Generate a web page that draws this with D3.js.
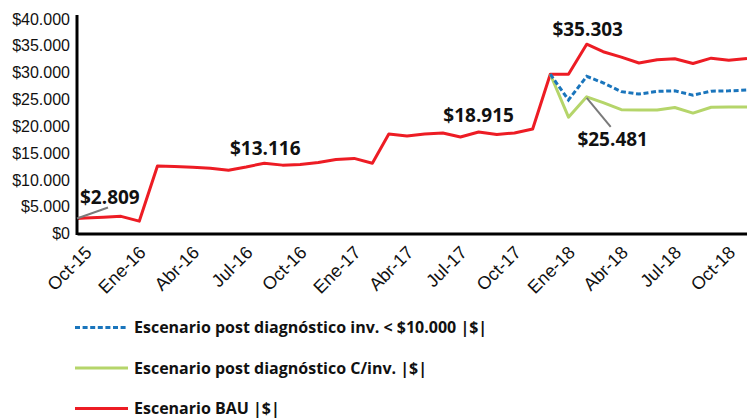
<!DOCTYPE html>
<html>
<head>
<meta charset="utf-8">
<script src="https://cdn.jsdelivr.net/npm/d3@7"></script>
<style>
  body { margin: 0; background: #fff; }
  svg { display: block; font-family: "Open Sans", "Noto Sans", sans-serif; }
  .axis path { stroke: #000; stroke-width: 3; }
  .axis text { font-size: 16px; fill: #111; }
  .axis.x text { font-size: 18px; }
  .note { font-size: 19px; font-weight: 700; fill: #111; }
  .legend text { font-size: 16px; font-weight: 700; fill: #111; }
</style>
</head>
<body>
<div id="chart"></div>
<script>
// first value of the BAU series is dated at the start of the period
const startDate = "2015-10-01";
const startValue = 2809;

// monthly values Oct-15 .. Nov-18 (plotted mid month)
const firstMonth = "2015-10-01";
const bau = [2900, 3050, 3200, 2300, 12600, 12500, 12350, 12150, 11800, 12400,
             13116, 12750, 12850, 13250, 13800, 14000, 13100, 18550, 18200, 18550,
             18750, 18000, 18915, 18450, 18750, 19500, 29700, 29700, 35303, 33900,
             32900, 31800, 32400, 32600, 31700, 32700, 32300, 32650];

// scenarios start Dec-17
const scenarioStart = "2017-12-01";
const invMenor = [29700, 24900, 29300, 28100, 26450, 26000, 26500, 26600, 25800, 26550, 26600, 26750];
const conInv   = [29700, 21700, 25481, 24400, 23100, 23050, 23050, 23500, 22450, 23550, 23600, 23600];

const yTicks = [0, 5000, 10000, 15000, 20000, 25000, 30000, 35000, 40000];
const tickLabels = ["Oct-15", "Ene-16", "Abr-16", "Jul-16", "Oct-16", "Ene-17", "Abr-17",
                    "Jul-17", "Oct-17", "Ene-18", "Abr-18", "Jul-18", "Oct-18"];

const legendItems = [
  {name: "Escenario post diagnóstico inv. < $10.000 |$|", color: "#1a75bc", dash: "5,2.6"},
  {name: "Escenario post diagnóstico C/inv. |$|", color: "#b5d56a", dash: null},
  {name: "Escenario BAU |$|", color: "#ed1c24", dash: null}
];

const width = 747, height = 420;
const parse = d3.utcParse("%Y-%m-%d");

// month dates -> mid month points
function monthly(start, values) {
  let first = parse(start);
  return values.map((v, i) => ({date: d3.utcDay.offset(d3.utcMonth.offset(first, i), 14), value: v}));
}

let bauData = [{date: parse(startDate), value: startValue}].concat(monthly(firstMonth, bau));
let invData = monthly(scenarioStart, invMenor);
let conData = monthly(scenarioStart, conInv);

const loc = d3.formatLocale({decimal: ",", thousands: ".", grouping: [3], currency: ["$", ""]});
const fmt = loc.format("$,");

let x = d3.scaleUtc()
  .domain([parse(startDate), bauData[bauData.length - 1].date])
  .range([77, 747]);
let y = d3.scaleLinear().domain([0, 40000]).range([233.5, 19]);

let svg = d3.select("#chart").append("svg")
  .attr("width", width).attr("height", height);

let line = d3.line().x(d => x(d.date)).y(d => y(d.value));

svg.append("path").datum(bauData)
  .attr("d", line).attr("fill", "none")
  .attr("stroke", legendItems[2].color).attr("stroke-width", 3).attr("stroke-linejoin", "round");
svg.append("path").datum(conData)
  .attr("d", line).attr("fill", "none")
  .attr("stroke", legendItems[1].color).attr("stroke-width", 3).attr("stroke-linejoin", "round");
svg.append("path").datum(invData)
  .attr("d", line).attr("fill", "none")
  .attr("stroke", legendItems[0].color).attr("stroke-width", 3)
  .attr("stroke-dasharray", legendItems[0].dash);

// axes
let ticks = d3.utcMonth.every(3).range(parse(firstMonth), parse("2018-11-01"))
  .map(d => d3.utcDay.offset(d, 14));

let xAxis = svg.append("g").attr("class", "axis x")
  .attr("transform", "translate(0," + y(0) + ")")
  .call(d3.axisBottom(x).tickValues(ticks).tickSize(0).tickSizeOuter(0)
    .tickFormat((d, i) => tickLabels[i]));
xAxis.selectAll("text")
  .attr("text-anchor", "end")
  .attr("dx", "0").attr("dy", "0")
  .attr("transform", "translate(5,18) rotate(-45)");

let yAxis = svg.append("g").attr("class", "axis")
  .attr("transform", "translate(77,0)")
  .call(d3.axisLeft(y).tickValues(yTicks).tickSize(0).tickSizeOuter(0).tickPadding(7).tickFormat(fmt));
yAxis.select(".domain").attr("d", "M0," + (y(0) + 1.5) + "V15");

// annotations
let startPt = bauData[0];
let peakPt = bauData[29];
let conPt = conData[2];
let notes = [
  {d: startPt, dx: 3, dy: -14, anchor: "start"},
  {d: bauData[11], dx: 1, dy: -8, anchor: "middle"},
  {d: bauData[23], dx: 0, dy: -10, anchor: "middle"},
  {d: peakPt, dx: 1, dy: -8, anchor: "middle"},
  {d: conPt, dx: 26, dy: 49, anchor: "middle"}
];
svg.append("line")
  .attr("x1", x(startPt.date)).attr("y1", y(startPt.value))
  .attr("x2", x(startPt.date) + 31).attr("y2", y(startPt.value) - 11)
  .attr("stroke", "#7a7a7a").attr("stroke-width", 2);
svg.append("line")
  .attr("x1", x(conPt.date)).attr("y1", y(conPt.value) + 1)
  .attr("x2", x(conPt.date) + 24).attr("y2", y(conPt.value) + 30)
  .attr("stroke", "#7a7a7a").attr("stroke-width", 2);

svg.selectAll(".note").data(notes).enter().append("text")
  .attr("class", "note")
  .attr("x", n => x(n.d.date) + n.dx)
  .attr("y", n => y(n.d.value) + n.dy)
  .attr("text-anchor", n => n.anchor)
  .text(n => fmt(n.d.value));

// legend
let legend = svg.append("g").attr("class", "legend");
let rows = legend.selectAll("g").data(legendItems).enter().append("g")
  .attr("transform", (d, i) => "translate(75," + (327.5 + i * 40.5) + ")");
rows.append("line")
  .attr("x1", 0).attr("x2", 53)
  .attr("stroke", d => d.color).attr("stroke-width", 3)
  .attr("stroke-dasharray", d => d.dash);
rows.append("text")
  .attr("x", 59).attr("dy", "0.35em")
  .text(d => d.name);
</script>
</body>
</html>
